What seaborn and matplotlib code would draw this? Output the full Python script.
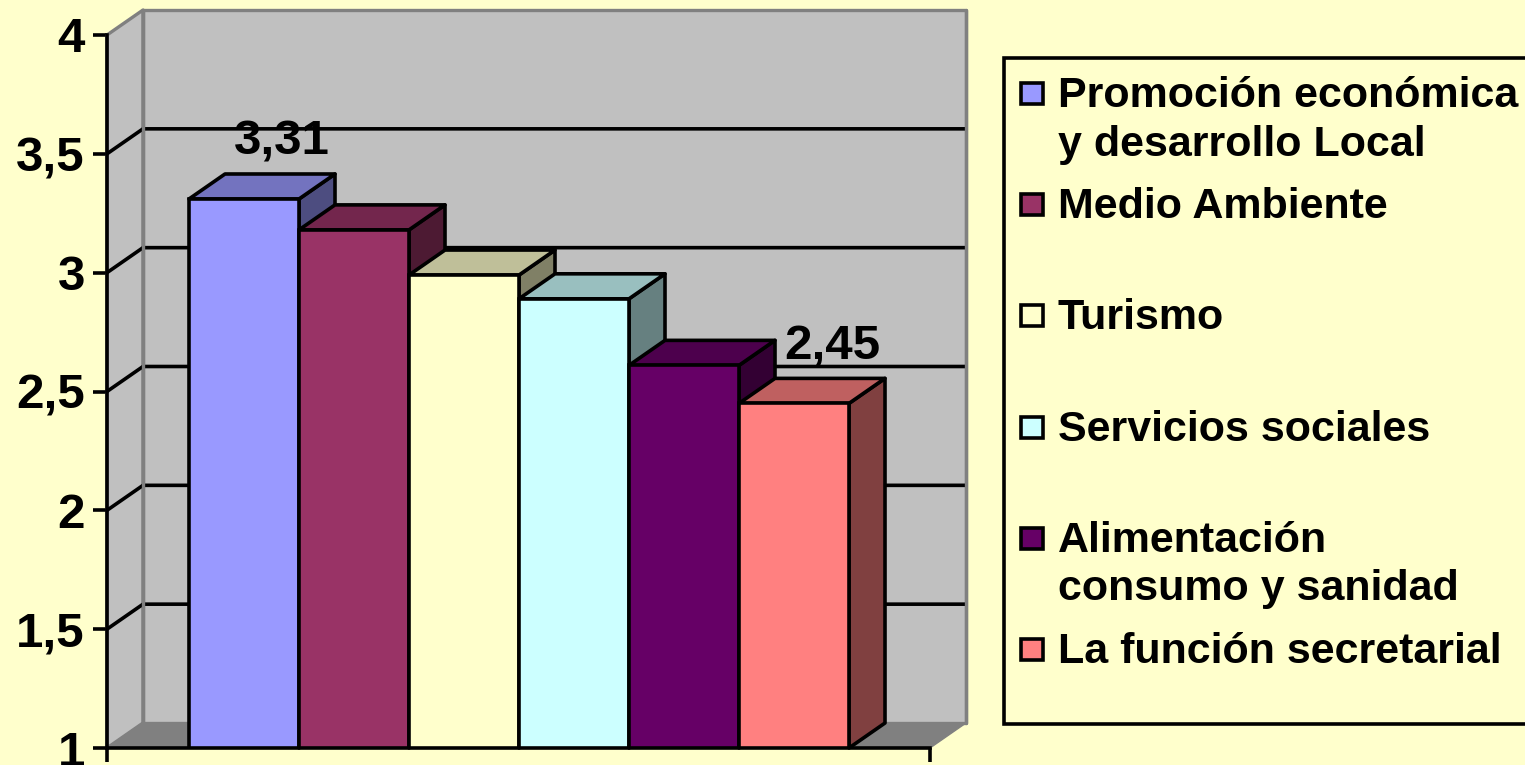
import matplotlib
matplotlib.use('Agg')
import matplotlib.pyplot as plt
import pandas as pd
import seaborn as sns
from matplotlib.colors import to_rgb
from matplotlib.patches import Polygon, Rectangle

# Data
categories = ['Promoción económica', 'Medio Ambiente', 'Turismo',
              'Servicios sociales', 'Alimentación consumo y sanidad', 'La función secretarial']
values = [3.31, 3.18, 2.99, 2.89, 2.61, 2.45]
bar_colors = ['#9999FF', '#993366', '#FFFFCC', '#CCFFFF', '#660066', '#FF8080']
legend_labels = ['Promoción económica\ny desarrollo Local', 'Medio Ambiente', 'Turismo',
                 'Servicios sociales', 'Alimentación\nconsumo y sanidad', 'La función secretarial']
y_ticks = [1, 1.5, 2, 2.5, 3, 3.5, 4]
y_tick_labels = ['1', '1,5', '2', '2,5', '3', '3,5', '4']
value_labels = {0: '3,31', 5: '2,45'}

BG = '#FFFFCC'
WALL = '#C0C0C0'
FLOOR = '#808080'
LW = 2.6

sns.set_theme(style='white')
plt.rcParams['font.family'] = ['Liberation Sans', 'DejaVu Sans']
plt.rcParams['font.weight'] = 'bold'

fig = plt.figure(figsize=(15.25, 7.65), dpi=100, facecolor=BG)
ax = fig.add_axes([107 / 1525, 17 / 765, 823 / 1525, 713 / 765], facecolor='none')

df = pd.DataFrame({'category': categories, 'value': values})
sns.barplot(data=df, x='category', y='value', hue='category', palette=bar_colors,
            width=1, saturation=1, edgecolor='black', linewidth=LW, legend=False,
            zorder=6, ax=ax)

xmin, xmax = -0.5 - 82 / 110, 5.5 + 81 / 110
ymin, ymax = 1, 4
ax.set_xlim(xmin, xmax)
ax.set_ylim(ymin, ymax)
dx = 36 / 110     # depth of the 3D box, data units
dy = 25 / (713 / 3)


def poly(pts, face, edge='black', lw=LW, z=3):
    ax.add_patch(Polygon(pts, closed=True, facecolor=face, edgecolor=edge, linewidth=lw,
                         joinstyle='round', clip_on=False, zorder=z))


# walls and floor
poly([(xmin, ymin), (xmin + dx, ymin + dy), (xmin + dx, ymax + dy), (xmin, ymax)], WALL, FLOOR, 2.4, 1)
poly([(xmin + dx, ymin + dy), (xmax + dx, ymin + dy), (xmax + dx, ymax + dy), (xmin + dx, ymax + dy)], WALL, FLOOR, 2.4, 1)
poly([(xmin, ymin), (xmax, ymin), (xmax + dx, ymin + dy), (xmin + dx, ymin + dy)], FLOOR, FLOOR, 1, 1.5)

# gridlines on the back wall and the side wall, the top one is just the grey wall edge
for t in y_ticks[1:-1]:
    ax.plot([xmin, xmin + dx, xmax + dx], [t, t + dy, t + dy], color='black', lw=LW,
            clip_on=False, zorder=2, solid_joinstyle='round')

# grey wall corners sit over the gridlines
for xe in [xmin + dx, xmax + dx]:
    ax.plot([xe, xe], [ymin + dy, ymax + dy], color=FLOOR, lw=2.4, clip_on=False, zorder=2.5)

# sides and tops of the bars
for i, (v, c) in enumerate(zip(values, bar_colors)):
    l, r = i - 0.5, i + 0.5
    rgb = to_rgb(c)
    poly([(r, ymin), (r + dx, ymin + dy), (r + dx, v + dy), (r, v)], [k * 0.5 for k in rgb], z=4)
    poly([(l, v), (r, v), (r + dx, v + dy), (l + dx, v + dy)], [k * 0.75 for k in rgb], z=4)

# value labels
for i, txt in value_labels.items():
    ax.annotate(txt, (i + dx, values[i] + dy), xytext=(2, 19), textcoords='offset pixels',
                ha='center', va='baseline', fontsize=35.5, fontweight='bold',
                color='black', zorder=8, annotation_clip=False)

# axes
ax.set_xlabel('')
ax.set_ylabel('')
ax.set_xticks([xmin, xmax])
ax.set_xticklabels([])
ax.set_yticks(y_ticks)
ax.set_yticklabels(y_tick_labels, fontsize=35.5, fontweight='bold', color='black')
ax.tick_params(axis='both', length=10, width=LW, color='black', pad=6, left=True, bottom=True)
for side in ['top', 'right']:
    ax.spines[side].set_visible(False)
for side in ['left', 'bottom']:
    ax.spines[side].set_color('black')
    ax.spines[side].set_linewidth(LW)
    ax.spines[side].set_zorder(7)

# legend, laid out in pixels of the figure
lax = fig.add_axes([0, 0, 1, 1], facecolor='none')
lax.set_xlim(0, 1525)
lax.set_ylim(765, 0)
lax.axis('off')
lax.add_patch(Rectangle((1004, 58), 540, 666, facecolor=BG, edgecolor='black', linewidth=LW))
for i, (lab, c) in enumerate(zip(legend_labels, bar_colors)):
    base = 105 + i * 111.2
    lax.add_patch(Rectangle((1021, base - 22), 22, 21, facecolor=c, edgecolor='black', linewidth=LW))
    for j, line in enumerate(lab.split('\n')):
        lax.text(1058, base + 2 + j * 48.5, line, fontsize=31, fontweight='bold', color='black',
                 ha='left', va='baseline')

fig.savefig('out.png', dpi=100, facecolor=BG)
